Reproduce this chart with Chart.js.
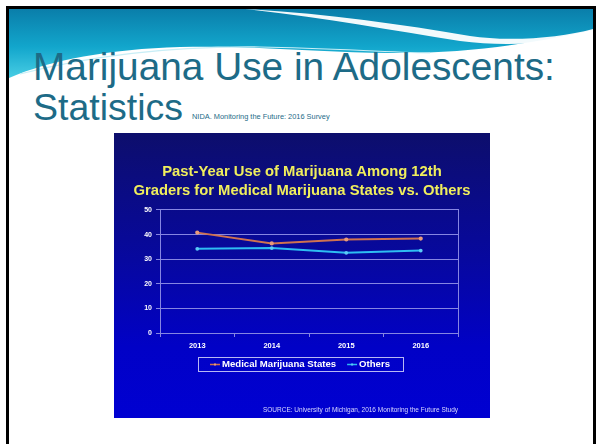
<!DOCTYPE html>
<html>
<head>
<meta charset="utf-8">
<script src="https://cdn.jsdelivr.net/npm/chart.js@4.4.1/dist/chart.umd.min.js"></script>
<style>
  html, body { margin: 0; padding: 0; background: #fff; }
  body { width: 596px; height: 444px; position: relative; overflow: hidden; font-family: "Liberation Sans", Arial, sans-serif; }
  #frame { position: absolute; left: 6px; top: 6px; width: 590px; height: 460px; border: 3px solid #000; box-sizing: border-box; }
  #deco { position: absolute; left: 0; top: 0; }
  #chartBox {
    position: absolute; left: 114px; top: 133px; width: 376px; height: 285px;
    background: linear-gradient(to bottom, #0d0e6c 0%, #0708a0 45%, #0101c6 75%, #0000d2 100%);
  }
  #chartBox canvas { display: block; }
</style>
</head>
<body>
<div id="frame"></div>
<svg id="deco" width="596" height="130">
  <defs>
    <linearGradient id="teal" x1="0" y1="0" x2="0" y2="1">
      <stop offset="0" stop-color="#0a7eaa"/>
      <stop offset="0.55" stop-color="#12a6cc"/>
      <stop offset="1" stop-color="#48cde4"/>
    </linearGradient>
  </defs>
  <!-- header wave -->
  <path d="M9,9 H593 V30 C540,42 470,54 390,53 C310,52 250,45 180,47 C110,49 50,60 9,78 Z" fill="url(#teal)"/>
  <path d="M245,9 C320,13 400,24 470,36 C510,42 560,38 593,29 L593,33 C555,44 505,47 460,41 C390,30 320,17 245,9 Z" fill="#ffffff" opacity="0.95"/>
  <path d="M20,74 C90,56 170,46 260,47 C330,48 380,52 430,53" fill="none" stroke="#c8eef6" stroke-width="1.2"/>
  <!-- slide title -->
  <text x="33" y="80" font-family="Liberation Sans, Arial" font-size="38.8" fill="#1d6b87">Marijuana Use in Adolescents:</text>
  <text x="33" y="120" font-family="Liberation Sans, Arial" font-size="37.5" fill="#1d6b87">Statistics</text>
  <text x="192" y="119" font-family="Liberation Sans, Arial" font-size="7.4" fill="#1d6b87">NIDA. Monitoring the Future: 2016 Survey</text>
</svg>
<div id="chartBox"><canvas id="useChart" width="376" height="285"></canvas></div>

<script>
// Past-year marijuana use, 12th graders (%)
const years = ['2013', '2014', '2015', '2016'];
const medicalStates = [40.8, 36.4, 38.0, 38.4];
const otherStates = [34.2, 34.5, 32.6, 33.5];
const yTicks = [0, 10, 20, 30, 40, 50];

const chartTitle = ['Past-Year Use of Marijuana Among 12th', 'Graders for Medical Marijuana States vs. Others'];
const sourceNote = 'SOURCE: University of Michigan, 2016 Monitoring the Future Study';

const gridColor = '#8686e2';

// boxed legend and source line under the plot
const notesPlugin = {
    id: 'notesPlugin',
    afterDraw(chart) {
        const ctx = chart.ctx;
        ctx.save();

        // legend
        const lx = 84, ly = 224, lw = 205, lh = 14;
        ctx.strokeStyle = '#b8b8f4';
        ctx.lineWidth = 1;
        ctx.strokeRect(lx + 0.5, ly + 0.5, lw, lh);
        ctx.font = 'bold 9.6px "Liberation Sans", Arial, sans-serif';
        ctx.textBaseline = 'middle';
        let x = lx + 12;
        const cy = ly + lh / 2 + 0.5;
        chart.data.datasets.forEach(ds => {
            ctx.strokeStyle = ds.borderColor;
            ctx.lineWidth = 1.5;
            ctx.beginPath();
            ctx.moveTo(x, cy);
            ctx.lineTo(x + 10, cy);
            ctx.stroke();
            ctx.fillStyle = ds.pointBackgroundColor;
            ctx.fillRect(x + 4, cy - 1, 2, 2);
            ctx.fillStyle = '#ffffff';
            ctx.fillText(ds.label, x + 12, cy);
            x += 12 + ctx.measureText(ds.label).width + 11;
        });

        // source
        ctx.font = '6.5px "Liberation Sans", Arial, sans-serif';
        ctx.textBaseline = 'alphabetic';
        ctx.textAlign = 'right';
        ctx.fillStyle = '#d8d8ff';
        ctx.fillText(sourceNote, 344, 279);
        ctx.restore();
    }
};

const ctx = document.getElementById('useChart').getContext('2d');
const useChart = new Chart(ctx, {
    type: 'line',
    data: {
        labels: years,
        datasets: [{
            label: 'Medical Marijuana States',
            data: medicalStates,
            borderColor: '#cf7250',
            backgroundColor: '#cf7250',
            pointBackgroundColor: '#e89a7a',
            pointBorderColor: '#e89a7a',
            pointRadius: 1.1,
            borderWidth: 2,
            tension: 0
        }, {
            label: 'Others',
            data: otherStates,
            borderColor: '#2ebdf2',
            backgroundColor: '#2ebdf2',
            pointBackgroundColor: '#5ccbf6',
            pointBorderColor: '#5ccbf6',
            pointRadius: 0.9,
            borderWidth: 2,
            tension: 0
        }]
    },
    options: {
        responsive: false,
        animation: false,
        devicePixelRatio: 1,
        layout: { padding: { left: 0, right: 0, top: 0, bottom: 60 } },
        plugins: {
            legend: { display: false },
            tooltip: { enabled: false },
            title: {
                display: true,
                text: chartTitle,
                color: '#f0ee5c',
                font: { family: '"Liberation Sans", Arial, sans-serif', size: 14.8, weight: 'bold', lineHeight: 1.28 },
                padding: { top: 29.5, bottom: 9.6 }
            }
        },
        scales: {
            x: {
                offset: true,
                afterFit(scale) { scale.height = 25; },
                grid: { offset: true, drawOnChartArea: false, drawTicks: true, tickLength: 4, color: gridColor },
                border: { color: gridColor },
                ticks: {
                    color: '#ffffff',
                    padding: 4,
                    font: { family: '"Liberation Sans", Arial, sans-serif', size: 7.5, weight: 'bold' }
                }
            },
            y: {
                min: 0,
                max: 50,
                afterFit(scale) { scale.width = 46; },
                afterBuildTicks(scale) { scale.ticks = yTicks.map(v => ({ value: v })); },
                grid: { color: gridColor, lineWidth: 1, tickLength: 4 },
                border: { color: gridColor },
                ticks: {
                    color: '#ffffff',
                    padding: 4,
                    font: { family: '"Liberation Sans", Arial, sans-serif', size: 7, weight: 'bold' }
                }
            },
            // right edge of the plot frame
            yRight: {
                position: 'right',
                min: 0,
                max: 50,
                afterFit(scale) { scale.width = 32; },
                grid: { display: false },
                border: { display: true, color: gridColor },
                ticks: { display: false }
            }
        }
    },
    plugins: [notesPlugin]
});
</script>
</body>
</html>
